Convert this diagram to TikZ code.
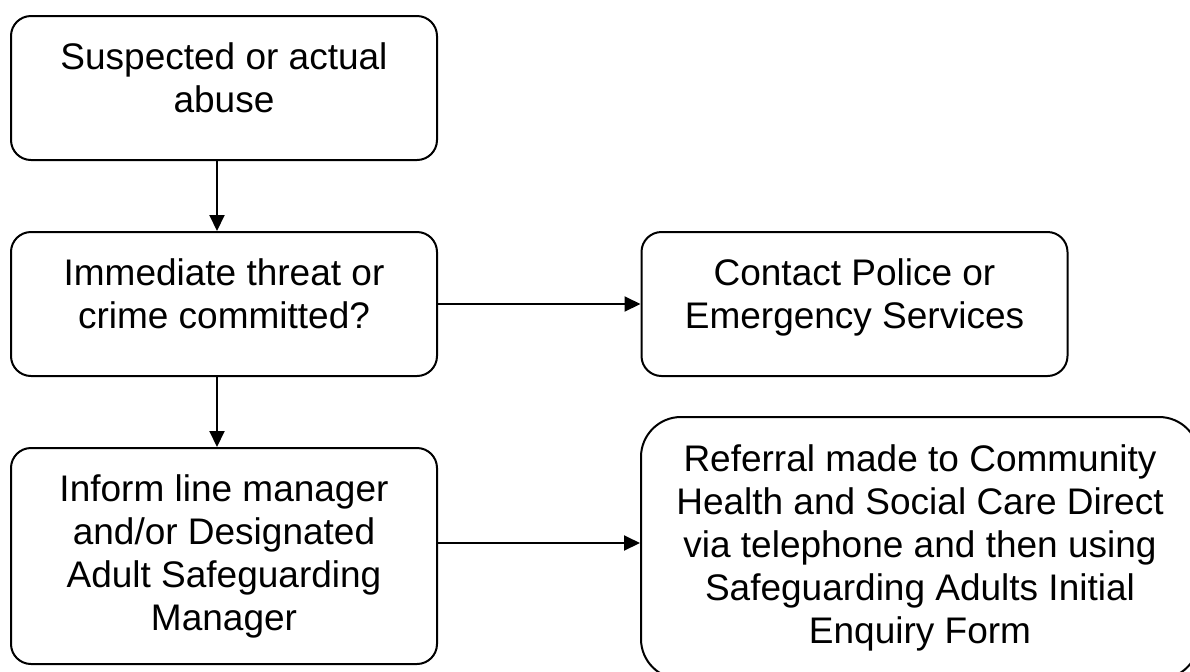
\documentclass[tikz,border=0pt]{standalone}
\usepackage{fontspec}
\setmainfont{Liberation Sans}
\usetikzlibrary{arrows.meta}

\begin{document}
\begin{tikzpicture}[x=0.5pt, y=-0.5pt,
        stepbox/.style={rectangle, rounded corners=10pt, draw=black, line width=1pt, fill=white, align=center, inner sep=0pt, minimum width=213pt, font=\fontsize{18.5}{21.5}\selectfont},
        arr/.style={-{Triangle[length=8pt, width=7.5pt]}, line width=1pt}]
        \useasboundingbox (0, 0) rectangle (1190, 671);

        \node[stepbox, minimum height=72pt] (abuse) at (224, 88) {Suspected or actual\\abuse\\[-11.5pt]};
        \node[stepbox, minimum height=72pt] (threat) at (224, 304) {Immediate threat or\\crime committed?\\[-11.5pt]};
        \node[stepbox, minimum height=72pt] (police) at (854.5, 304) {Contact Police or\\Emergency Services\\[-11.5pt]};
        \node[stepbox, minimum height=108pt] (inform) at (224, 556) {Inform line manager\\and/or Designated\\Adult Safeguarding\\Manager};
        \node[stepbox, rounded corners=20pt, minimum width=279pt, minimum height=131pt] (referral) at (920, 548) {Referral made to Community\\Health and Social Care Direct\\via telephone and then using\\Safeguarding Adults Initial\\Enquiry Form};

        \draw[arr] ([xshift=-3.5pt]abuse.south) -- ([xshift=-3.5pt]threat.north);
        \draw[arr] (threat) -- (police);
        \draw[arr] ([xshift=-3.5pt]threat.south) -- ([xshift=-3.5pt]inform.north);
        \draw[arr] ([yshift=6.5pt]inform.east) -- ([yshift=2.5pt]referral.west);
    \end{tikzpicture}
\end{document}
